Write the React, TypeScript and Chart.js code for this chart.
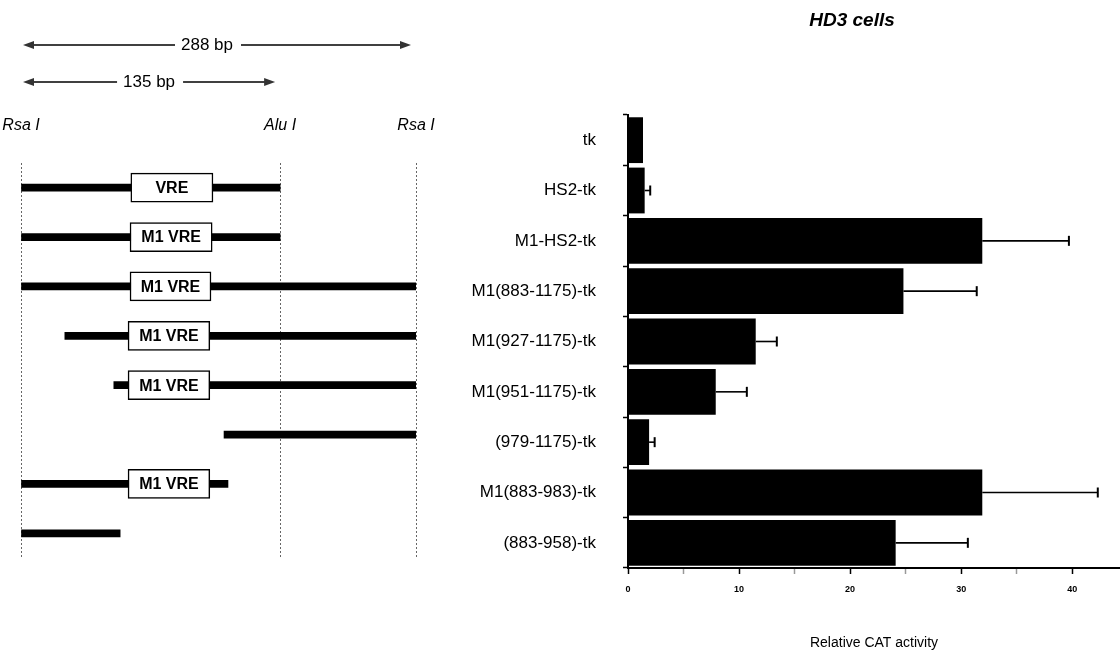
import React, { useEffect, useRef } from 'react';
import { Chart, registerables } from 'chart.js';

Chart.register(...registerables);

const FONT = "'Liberation Sans', Arial, Helvetica, sans-serif";

// ---- Bar chart data (right panel) ----
const categories = [
  'tk',
  'HS2-tk',
  'M1-HS2-tk',
  'M1(883-1175)-tk',
  'M1(927-1175)-tk',
  'M1(951-1175)-tk',
  '(979-1175)-tk',
  'M1(883-983)-tk',
  '(883-958)-tk',
];
const activity = [1.35, 1.5, 31.9, 24.8, 11.5, 7.9, 1.9, 31.9, 24.1];
const activitySD = [0, 0.5, 7.8, 6.6, 1.9, 2.8, 0.5, 10.4, 6.5];
const chartTitle = 'HD3 cells';
const xAxisTitle = 'Relative CAT activity';

// ---- Construct map data (left panel), schematic positions 0..100 ----
const constructs = categories.slice(1);
const siteNames = ['Rsa I', 'Alu I', 'Rsa I'];
const sitePositions = [0, 65.6, 100];
const fragmentStart = [0, 0, 0, 11.1, 23.5, 51.4, 0, 0];
const fragmentEnd = [65.6, 65.6, 100, 100, 100, 100, 52.4, 25.1];
const vreStart = [27.8, 27.6, 27.6, 27.1, 27.1, null, 27.1, null];
const vreEnd = [48.6, 48.4, 48.1, 47.8, 47.8, null, 47.8, null];
const vreLabels = ['VRE', 'M1 VRE', 'M1 VRE', 'M1 VRE', 'M1 VRE', '', 'M1 VRE', ''];
const spanFrom = [0, 0];
const spanTo = [100, 65.6];
const spanLabels = ['288 bp', '135 bp'];

const fragmentData = fragmentStart.map((s, i) => [s, fragmentEnd[i]]);
const vreData = vreStart.map((s, i) => (s === null ? null : [s, vreEnd[i] as number]));

const boxLabelPlugin = {
  id: 'boxLabels',
  afterDatasetsDraw(chart: any) {
    const meta = chart.getDatasetMeta(0);
    const ctx = chart.ctx;
    ctx.save();
    ctx.font = `bold 16px ${FONT}`;
    ctx.fillStyle = '#000';
    ctx.textAlign = 'center';
    ctx.textBaseline = 'middle';
    meta.data.forEach((el: any, i: number) => {
      if (!vreLabels[i] || vreData[i] === null) return;
      const p = el.getProps(['x', 'base', 'y'], true);
      ctx.fillText(vreLabels[i], (p.x + p.base) / 2, p.y + 1);
    });
    ctx.restore();
  },
};

const spanArrowPlugin = {
  id: 'spanArrows',
  afterDraw(chart: any) {
    const ctx = chart.ctx;
    const xs = chart.scales.x;
    const top = chart.chartArea.top;
    ctx.save();
    spanLabels.forEach((label, i) => {
      const x0 = xs.getPixelForValue(spanFrom[i]) + 2;
      const x1 = xs.getPixelForValue(spanTo[i]) - 5;
      const y = top - 118 + i * 37;
      ctx.strokeStyle = '#000';
      ctx.lineWidth = 1.6;
      ctx.beginPath();
      ctx.moveTo(x0 + 6, y);
      ctx.lineTo(x1 - 6, y);
      ctx.stroke();
      ctx.fillStyle = '#333';
      ctx.beginPath();
      ctx.moveTo(x0, y);
      ctx.lineTo(x0 + 11, y - 4);
      ctx.lineTo(x0 + 11, y + 4);
      ctx.closePath();
      ctx.fill();
      ctx.beginPath();
      ctx.moveTo(x1, y);
      ctx.lineTo(x1 - 11, y - 4);
      ctx.lineTo(x1 - 11, y + 4);
      ctx.closePath();
      ctx.fill();
      ctx.font = `17px ${FONT}`;
      const w = ctx.measureText(label).width;
      const cx = (x0 + x1) / 2 - (i === 0 ? 10 : 0);
      ctx.fillStyle = '#fff';
      ctx.fillRect(cx - w / 2 - 6, y - 10, w + 14, 20);
      ctx.fillStyle = '#000';
      ctx.textAlign = 'center';
      ctx.textBaseline = 'middle';
      ctx.fillText(label, cx, y);
    });
    ctx.restore();
  },
};

const errorBarPlugin = {
  id: 'errorBars',
  afterDatasetsDraw(chart: any) {
    const meta = chart.getDatasetMeta(0);
    const xs = chart.scales.x;
    const ctx = chart.ctx;
    ctx.save();
    ctx.strokeStyle = '#000';
    meta.data.forEach((el: any, i: number) => {
      const sd = activitySD[i];
      if (!sd) return;
      const p = el.getProps(['x', 'y'], true);
      const xe = xs.getPixelForValue(activity[i] + sd);
      ctx.lineWidth = 1.6;
      ctx.beginPath();
      ctx.moveTo(p.x, p.y);
      ctx.lineTo(xe, p.y);
      ctx.stroke();
      ctx.lineWidth = 2;
      ctx.beginPath();
      ctx.moveTo(xe, p.y - 5);
      ctx.lineTo(xe, p.y + 5);
      ctx.stroke();
    });
    ctx.restore();
  },
};

const titlePlugin = {
  id: 'panelTitle',
  afterDraw(chart: any) {
    const ctx = chart.ctx;
    ctx.save();
    ctx.font = `italic bold 19px ${FONT}`;
    ctx.fillStyle = '#000';
    ctx.textAlign = 'center';
    ctx.textBaseline = 'middle';
    ctx.fillText(chartTitle, chart.chartArea.left + 224, 21);
    ctx.restore();
  },
};

export default function App() {
  const refA = useRef<HTMLCanvasElement>(null);
  const refB = useRef<HTMLCanvasElement>(null);

  useEffect(() => {
    const diagram = new Chart(refA.current as HTMLCanvasElement, {
      type: 'bar',
      data: {
        labels: constructs,
        datasets: [
          {
            label: 'VRE',
            data: vreData as any,
            backgroundColor: '#fff',
            borderColor: '#000',
            borderWidth: 1.5,
            borderSkipped: false,
            barThickness: 29,
            grouped: false,
            order: 0,
          } as any,
          {
            label: 'fragment',
            data: fragmentData as any,
            backgroundColor: '#000',
            borderWidth: 0,
            barThickness: 7,
            grouped: false,
            order: 1,
          } as any,
        ],
      },
      options: {
        indexAxis: 'y',
        responsive: false,
        animation: false,
        layout: { padding: { top: 116, bottom: 94, left: 21, right: 24 } },
        plugins: { legend: { display: false }, tooltip: { enabled: false } },
        scales: {
          x: {
            type: 'linear',
            position: 'top',
            min: 0,
            max: 100,
            afterBuildTicks: (s: any) => {
              s.ticks = sitePositions.map((v) => ({ value: v }));
            },
            afterFit: (s: any) => {
              s.height = 47;
              s.paddingLeft = 0;
              s.paddingRight = 0;
              s.paddingTop = 0;
              s.paddingBottom = 0;
            },
            ticks: {
              autoSkip: false,
              maxRotation: 0,
              padding: 28,
              color: '#000',
              font: { family: FONT, size: 16, style: 'italic' },
              callback: (_v: any, i: number) => siteNames[i],
            },
            grid: { drawTicks: false, color: '#666', lineWidth: 1 },
            border: { display: false, dash: [2, 2] },
          } as any,
          y: { display: false },
        },
      },
      plugins: [boxLabelPlugin, spanArrowPlugin],
    });

    const bars = new Chart(refB.current as HTMLCanvasElement, {
      type: 'bar',
      data: {
        labels: categories,
        datasets: [
          {
            label: xAxisTitle,
            data: activity,
            backgroundColor: '#000',
            borderWidth: 0,
            barPercentage: 0.91,
            categoryPercentage: 1,
          },
        ],
      },
      options: {
        indexAxis: 'y',
        responsive: false,
        animation: false,
        layout: { padding: { top: 115, right: 0, bottom: 0, left: 0 } },
        plugins: { legend: { display: false }, tooltip: { enabled: false } },
        scales: {
          x: {
            type: 'linear',
            min: 0,
            max: 44.3,
            afterFit: (s: any) => {
              s.height = 84;
            },
            ticks: {
              stepSize: 5,
              includeBounds: false,
              autoSkip: false,
              maxRotation: 0,
              padding: 10,
              color: '#000',
              font: { family: FONT, size: 9, weight: 'bold' },
              callback: (v: any) => (Number(v) % 10 === 0 ? String(v) : ''),
            },
            grid: {
              drawOnChartArea: false,
              tickLength: 6,
              tickWidth: 1.5,
              tickColor: (c: any) => (c.tick && c.tick.value % 10 === 0 ? '#000' : '#999'),
            },
            border: { color: '#000', width: 2 },
            title: {
              display: true,
              text: xAxisTitle,
              color: '#000',
              font: { family: FONT, size: 14 },
              padding: { top: 0, bottom: 0 },
            },
          } as any,
          y: {
            afterFit: (s: any) => {
              s.width = 188;
            },
            ticks: {
              color: '#000',
              padding: 27,
              font: { family: FONT, size: 17 },
            },
            grid: { drawOnChartArea: false, tickLength: 5, tickWidth: 1.5, tickColor: '#000' },
            border: { color: '#000', width: 2 },
          } as any,
        },
      },
      plugins: [errorBarPlugin, titlePlugin],
    });

    return () => {
      diagram.destroy();
      bars.destroy();
    };
  }, []);

  return (
    <div style={{ position: 'fixed', left: 0, top: 0, width: 1120, height: 652, background: '#fff' }}>
      <canvas ref={refA} width={440} height={652} style={{ position: 'absolute', left: 0, top: 0 }} />
      <canvas ref={refB} width={680} height={652} style={{ position: 'absolute', left: 440, top: 0 }} />
    </div>
  );
}
